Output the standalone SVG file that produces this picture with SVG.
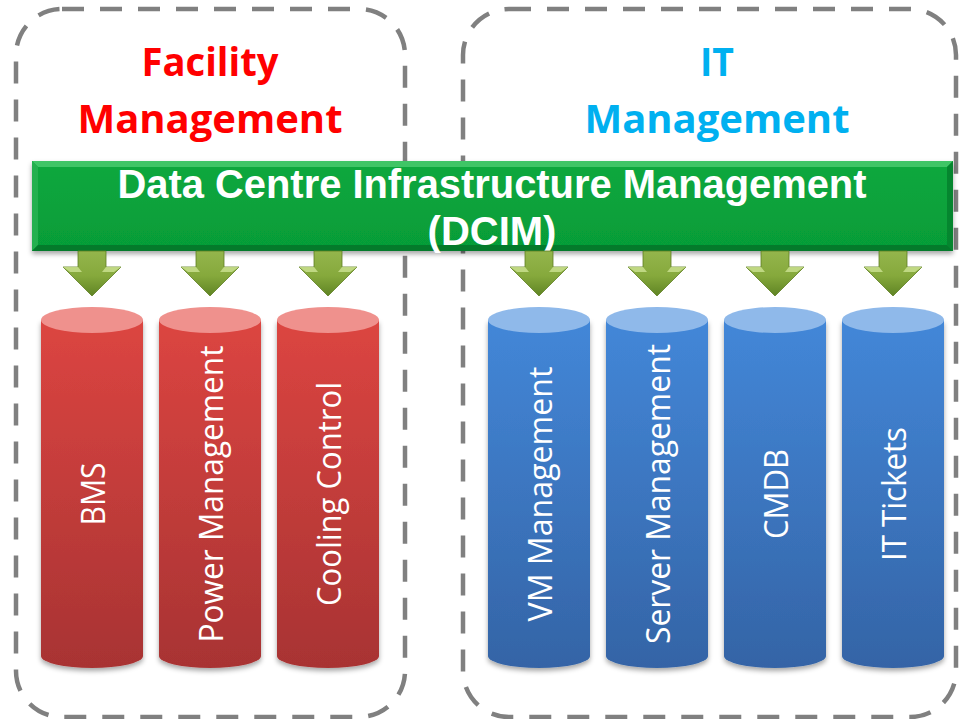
<svg xmlns="http://www.w3.org/2000/svg" width="960" height="719" viewBox="0 0 960 719">
<defs>
<style>
.box{fill:none;stroke:#808080;stroke-width:4.5;stroke-dasharray:22 16}
.title{font-family:"Open Sans","Liberation Sans",sans-serif;font-weight:700;font-size:40px;text-anchor:middle}
.bartxt{font-family:"Liberation Sans",Arial,sans-serif;font-weight:700;font-size:40px;fill:#ffffff;text-anchor:middle}
.lbl{font-family:"Open Sans","Liberation Sans",sans-serif;font-size:33px;fill:#ffffff;text-anchor:middle}
.arrow{fill:url(#garr);stroke:#5e7d22;stroke-width:0.8}
.hl{fill:#c9df8e;opacity:0.85}
</style>
<linearGradient id="gred" x1="0" y1="0" x2="0" y2="1">
<stop offset="0" stop-color="#dc4541"/><stop offset="1" stop-color="#a83333"/>
</linearGradient>
<linearGradient id="gblue" x1="0" y1="0" x2="0" y2="1">
<stop offset="0" stop-color="#4387d8"/><stop offset="1" stop-color="#3464a6"/>
</linearGradient>
<linearGradient id="garr" x1="0" y1="0" x2="0" y2="1">
<stop offset="0" stop-color="#94b54c"/><stop offset="0.55" stop-color="#86a93c"/><stop offset="1" stop-color="#5f8424"/>
</linearGradient>
<linearGradient id="gbar" x1="0" y1="0" x2="0" y2="1">
<stop offset="0" stop-color="#0aa83e"/><stop offset="1" stop-color="#069c38"/>
</linearGradient>
<filter id="sh" x="-10%" y="-10%" width="120%" height="130%">
<feDropShadow dx="0" dy="3" stdDeviation="2.5" flood-color="#000" flood-opacity="0.35"/>
</filter>
</defs>

<g id="facility-box">
<rect class="box" x="16" y="9" width="389" height="708" rx="46" ry="46"/>
<text class="title" x="210" y="76" fill="#ff0000" textLength="137" lengthAdjust="spacingAndGlyphs">Facility</text>
<text class="title" x="210" y="133" fill="#ff0000" textLength="265" lengthAdjust="spacingAndGlyphs">Management</text>
</g>

<g id="it-box">
<rect class="box" x="463" y="9" width="493" height="708" rx="46" ry="46"/>
<text class="title" x="717" y="76" fill="#00b0f0" textLength="34" lengthAdjust="spacingAndGlyphs">IT</text>
<text class="title" x="717" y="133" fill="#00b0f0" textLength="265" lengthAdjust="spacingAndGlyphs">Management</text>
</g>

<g id="dcim">
<g filter="url(#sh)">
<rect x="32" y="161" width="921" height="90" fill="url(#gbar)"/>
</g>
<polygon points="32,161 953,161 947,167 38,167" fill="#3fc566"/>
<polygon points="32,161 38,167 38,245 32,251" fill="#24b04f"/>
<polygon points="953,161 953,251 947,245 947,167" fill="#05862f"/>
<polygon points="32,251 38,245 947,245 953,251" fill="#047a2b"/>
<text class="bartxt" x="492" y="198" textLength="749" lengthAdjust="spacingAndGlyphs">Data Centre Infrastructure Management</text>
<text class="bartxt" x="492" y="245">(DCIM)</text>
</g>

<g id="connectors">
<g id="arrow-1" transform="translate(92,0)">
<path class="arrow" d="M-14,251 H14 V267 H29 L0,296 L-29,267 H-14 Z"/>
<polygon class="hl" points="-29,267 -14,267 -10,272 -22,272"/>
<polygon class="hl" points="29,267 14,267 10,272 22,272"/>
</g>
<g id="arrow-2" transform="translate(210,0)">
<path class="arrow" d="M-14,251 H14 V267 H29 L0,296 L-29,267 H-14 Z"/>
<polygon class="hl" points="-29,267 -14,267 -10,272 -22,272"/>
<polygon class="hl" points="29,267 14,267 10,272 22,272"/>
</g>
<g id="arrow-3" transform="translate(328,0)">
<path class="arrow" d="M-14,251 H14 V267 H29 L0,296 L-29,267 H-14 Z"/>
<polygon class="hl" points="-29,267 -14,267 -10,272 -22,272"/>
<polygon class="hl" points="29,267 14,267 10,272 22,272"/>
</g>
<g id="arrow-4" transform="translate(539,0)">
<path class="arrow" d="M-14,251 H14 V267 H29 L0,296 L-29,267 H-14 Z"/>
<polygon class="hl" points="-29,267 -14,267 -10,272 -22,272"/>
<polygon class="hl" points="29,267 14,267 10,272 22,272"/>
</g>
<g id="arrow-5" transform="translate(657,0)">
<path class="arrow" d="M-14,251 H14 V267 H29 L0,296 L-29,267 H-14 Z"/>
<polygon class="hl" points="-29,267 -14,267 -10,272 -22,272"/>
<polygon class="hl" points="29,267 14,267 10,272 22,272"/>
</g>
<g id="arrow-6" transform="translate(775,0)">
<path class="arrow" d="M-14,251 H14 V267 H29 L0,296 L-29,267 H-14 Z"/>
<polygon class="hl" points="-29,267 -14,267 -10,272 -22,272"/>
<polygon class="hl" points="29,267 14,267 10,272 22,272"/>
</g>
<g id="arrow-7" transform="translate(893,0)">
<path class="arrow" d="M-14,251 H14 V267 H29 L0,296 L-29,267 H-14 Z"/>
<polygon class="hl" points="-29,267 -14,267 -10,272 -22,272"/>
<polygon class="hl" points="29,267 14,267 10,272 22,272"/>
</g>
</g>

<g id="bms" transform="translate(92,0)">
<path filter="url(#sh)" d="M-51,320 V656 A51,12 0 0 0 51,656 V320 Z" fill="url(#gred)"/>
<ellipse cx="0" cy="320" rx="51" ry="13" fill="#ef918d"/>
<text class="lbl" transform="translate(13,494) rotate(-90)" textLength="63" lengthAdjust="spacingAndGlyphs">BMS</text>
</g>
<g id="power-management" transform="translate(210,0)">
<path filter="url(#sh)" d="M-51,320 V656 A51,12 0 0 0 51,656 V320 Z" fill="url(#gred)"/>
<ellipse cx="0" cy="320" rx="51" ry="13" fill="#ef918d"/>
<text class="lbl" transform="translate(13,494) rotate(-90)" textLength="297" lengthAdjust="spacingAndGlyphs">Power Management</text>
</g>
<g id="cooling-control" transform="translate(328,0)">
<path filter="url(#sh)" d="M-51,320 V656 A51,12 0 0 0 51,656 V320 Z" fill="url(#gred)"/>
<ellipse cx="0" cy="320" rx="51" ry="13" fill="#ef918d"/>
<text class="lbl" transform="translate(13,494) rotate(-90)" textLength="224" lengthAdjust="spacingAndGlyphs">Cooling Control</text>
</g>
<g id="vm-management" transform="translate(539,0)">
<path filter="url(#sh)" d="M-51,320 V656 A51,12 0 0 0 51,656 V320 Z" fill="url(#gblue)"/>
<ellipse cx="0" cy="320" rx="51" ry="13" fill="#8fb9ea"/>
<text class="lbl" transform="translate(13,494) rotate(-90)" textLength="255" lengthAdjust="spacingAndGlyphs">VM Management</text>
</g>
<g id="server-management" transform="translate(657,0)">
<path filter="url(#sh)" d="M-51,320 V656 A51,12 0 0 0 51,656 V320 Z" fill="url(#gblue)"/>
<ellipse cx="0" cy="320" rx="51" ry="13" fill="#8fb9ea"/>
<text class="lbl" transform="translate(13,494) rotate(-90)" textLength="300" lengthAdjust="spacingAndGlyphs">Server Management</text>
</g>
<g id="cmdb" transform="translate(775,0)">
<path filter="url(#sh)" d="M-51,320 V656 A51,12 0 0 0 51,656 V320 Z" fill="url(#gblue)"/>
<ellipse cx="0" cy="320" rx="51" ry="13" fill="#8fb9ea"/>
<text class="lbl" transform="translate(13,494) rotate(-90)" textLength="90" lengthAdjust="spacingAndGlyphs">CMDB</text>
</g>
<g id="it-tickets" transform="translate(893,0)">
<path filter="url(#sh)" d="M-51,320 V656 A51,12 0 0 0 51,656 V320 Z" fill="url(#gblue)"/>
<ellipse cx="0" cy="320" rx="51" ry="13" fill="#8fb9ea"/>
<text class="lbl" transform="translate(13,494) rotate(-90)" textLength="134" lengthAdjust="spacingAndGlyphs">IT Tickets</text>
</g>
</svg>
